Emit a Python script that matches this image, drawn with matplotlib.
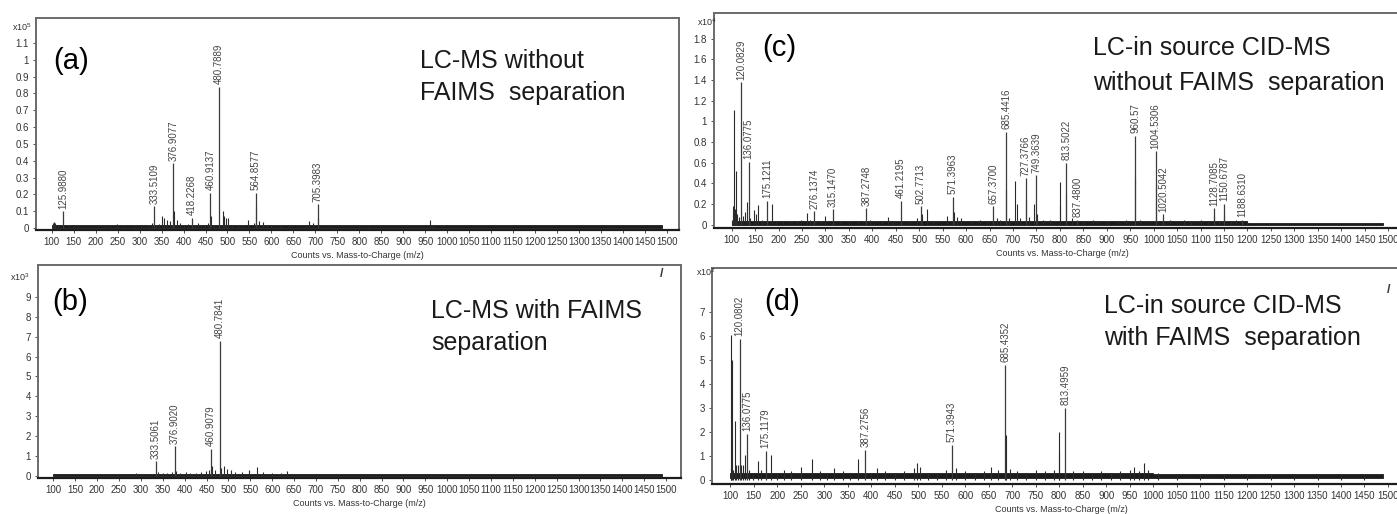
import matplotlib.pyplot as plt
from matplotlib import font_manager

W, H = 1397, 514

# ---- panel (a): LC-MS without FAIMS, counts x10^5 ----
a_labels = ['125.9880', '333.5109', '376.9077', '418.2268', '460.9137',
            '480.7889', '564.8577', '705.3983']
a_int = [0.10, 0.13, 0.385, 0.06, 0.21, 0.84, 0.21, 0.14]
a_minor_mz = [102, 104, 108, 113, 140, 150, 160, 205, 222, 232, 248, 262, 290,
              303, 320, 327, 338, 345, 352, 356, 362, 368, 378, 384, 392, 400,
              410, 425, 432, 440, 448, 455, 462, 470, 489, 492, 497, 502, 510,
              525, 536, 547, 560, 566, 572, 580, 590, 600, 620, 640, 660, 676,
              686, 694, 707, 716, 730, 760, 800, 820, 850, 900, 962, 966, 990]
a_minor_int = [0.03, 0.035, 0.03, 0.02, 0.01, 0.015, 0.012, 0.01, 0.015, 0.02,
               0.025, 0.01, 0.012, 0.012, 0.02, 0.03, 0.02, 0.025, 0.07, 0.06,
               0.05, 0.04, 0.1, 0.05, 0.03, 0.02, 0.025, 0.02, 0.03, 0.015,
               0.02, 0.03, 0.07, 0.02, 0.1, 0.07, 0.06, 0.06, 0.02, 0.02, 0.015,
               0.05, 0.03, 0.13, 0.04, 0.035, 0.02, 0.02, 0.015, 0.015, 0.01,
               0.02, 0.04, 0.03, 0.06, 0.02, 0.015, 0.01, 0.01, 0.012, 0.008,
               0.008, 0.045, 0.02, 0.01]
a_base_mz = [100, 1490]
a_base_lo = [0.0, 0.0]
a_base_hi = [0.016, 0.016]

# ---- panel (b): LC-MS with FAIMS, counts x10^3 ----
b_labels = ['333.5061', '376.9020', '460.9079', '480.7841']
b_int = [0.74, 1.5, 1.37, 6.8]
b_minor_mz = [290, 305, 320, 340, 350, 360, 372, 380, 390, 402, 412, 425, 438,
              448, 456, 463, 470, 484, 490, 497, 505, 515, 530, 547, 565, 578,
              600, 620, 635, 655, 680, 700, 810, 960, 1100, 1300, 1450]
b_minor_int = [0.15, 0.1, 0.12, 0.2, 0.15, 0.15, 0.2, 0.25, 0.15, 0.2, 0.15,
               0.15, 0.2, 0.25, 0.3, 0.5, 0.3, 0.4, 0.5, 0.35, 0.3, 0.2, 0.2,
               0.3, 0.45, 0.2, 0.15, 0.15, 0.25, 0.1, 0.1, 0.1, 0.12, 0.08,
               0.06, 0.06, 0.08]
b_base_mz = [100, 1490]
b_base_lo = [0.0, 0.0]
b_base_hi = [0.12, 0.12]

# ---- panel (c): LC-in source CID-MS without FAIMS, counts x10^4 ----
c_labels = ['120.0829', '136.0775', '175.1211', '276.1374', '315.1470',
            '387.2748', '461.2195', '502.7713', '571.3963', '657.3700',
            '685.4416', '727.3766', '749.3639', '813.5022', '837.4800',
            '960.57', '1004.5306', '1020.5042', '1128.7085', '1150.6787',
            '1188.6310']
c_int = [1.38, 0.61, 0.23, 0.13, 0.15, 0.16, 0.23, 0.18, 0.27, 0.18, 0.90,
         0.45, 0.48, 0.60, 0.05, 0.86, 0.71, 0.10, 0.16, 0.20, 0.05]
c_minor_mz = [101, 103, 105, 107, 110, 112, 115, 124, 128, 132, 140, 147, 152,
              157, 165, 185, 195, 210, 225, 240, 248, 260, 268, 290, 300, 330,
              350, 370, 395, 420, 433, 445, 480, 495, 505, 516, 530, 560, 575,
              580, 590, 610, 630, 645, 665, 672, 686, 692, 705, 708, 715, 728,
              735, 745, 751, 765, 780, 800, 801, 814, 825, 850, 870, 880, 900,
              925, 940, 961, 970, 1006, 1035, 1050, 1065, 1080, 1100, 1115,
              1129.5, 1140, 1151, 1165, 1175, 1190, 1200]
c_minor_int = [0.05, 0.18, 1.11, 0.15, 0.52, 0.1, 0.07, 0.08, 0.12, 0.22, 0.06,
               0.14, 0.1, 0.19, 0.05, 0.2, 0.04, 0.03, 0.03, 0.04, 0.05, 0.11,
               0.05, 0.04, 0.08, 0.03, 0.03, 0.04, 0.05, 0.04, 0.07, 0.03, 0.03,
               0.06, 0.1, 0.15, 0.04, 0.08, 0.12, 0.07, 0.06, 0.04, 0.05, 0.04,
               0.06, 0.05, 0.35, 0.06, 0.42, 0.2, 0.06, 0.25, 0.07, 0.2, 0.1,
               0.05, 0.05, 0.41, 0.19, 0.3, 0.06, 0.04, 0.05, 0.04, 0.03, 0.04,
               0.05, 0.45, 0.05, 0.4, 0.05, 0.03, 0.05, 0.04, 0.05, 0.03, 0.08,
               0.04, 0.1, 0.04, 0.05, 0.03, 0.04]
c_base_mz = [100, 1200, 1200, 1490]
c_base_lo = [0.0, 0.0, 0.0, 0.0]
c_base_hi = [0.035, 0.035, 0.018, 0.018]

# ---- panel (d): LC-in source CID-MS with FAIMS, counts x10^2 ----
d_labels = ['120.0802', '136.0775', '175.1179', '387.2756', '571.3943',
            '685.4352', '813.4959']
d_int = [5.9, 1.92, 1.22, 1.25, 1.46, 4.8, 3.0]
d_minor_mz = [101, 102, 104, 106, 110, 113, 117, 123, 128, 132, 140, 148, 158,
              165, 187, 200, 215, 230, 250, 273, 290, 305, 320, 340, 355, 372,
              400, 413, 430, 450, 470, 490, 497, 503, 520, 540, 560, 580, 600,
              620, 640, 655, 670, 686, 695, 710, 730, 750, 770, 790, 799, 800,
              830, 850, 870, 890, 910, 930, 950, 960, 970, 980, 990, 1010, 1050,
              1100, 1150, 1200, 1250, 1300, 1350, 1400, 1450]
d_minor_int = [0.5, 6.05, 5.0, 0.4, 2.45, 0.6, 0.6, 0.6, 0.6, 1.05, 0.4, 0.3,
               0.8, 0.4, 1.05, 0.3, 0.4, 0.35, 0.55, 0.85, 0.35, 0.3, 0.5, 0.35,
               0.3, 0.85, 0.3, 0.5, 0.35, 0.3, 0.35, 0.5, 0.7, 0.55, 0.3, 0.3,
               0.4, 0.5, 0.35, 0.3, 0.35, 0.55, 0.4, 1.85, 0.45, 0.35, 0.3, 0.4,
               0.35, 0.4, 1.2, 2.0, 0.35, 0.35, 0.3, 0.35, 0.3, 0.35, 0.4, 0.55,
               0.35, 0.7, 0.4, 0.3, 0.25, 0.2, 0.2, 0.2, 0.25, 0.2, 0.2, 0.2, 0.2]
d_base_mz = [100, 1000, 1000, 1490]
d_base_lo = [0.07, 0.07, 0.08, 0.08]
d_base_hi = [0.28, 0.28, 0.22, 0.22]

x_ticks = list(range(100, 1501, 50))
xlabel = 'Counts vs. Mass-to-Charge (m/z)'

names = {f.name for f in font_manager.fontManager.ttflist}
narrow = 'Liberation Sans Narrow' if 'Liberation Sans Narrow' in names else 'Liberation Sans'
plt.rcParams['font.family'] = ['Liberation Sans', 'DejaVu Sans']
plt.rcParams['mathtext.default'] = 'regular'

fig = plt.figure(figsize=(W / 100, H / 100), dpi=100)


def fx(x):
    return x / W


def fy(y):
    return 1 - y / H


def panel(box, xlim, ylim, yticks, labels, heights, minor_mz, minor_int,
          base_mz, base_lo, base_hi, tag, tag_xy, exp, exp_xy,
          title, title_x, title_base):
    left, top, right, bottom = box
    ax = fig.add_axes([fx(left), fy(bottom), fx(right - left), (bottom - top) / H])
    mz = [float(s) for s in labels]
    ax.fill_between(base_mz, base_lo, base_hi, color='#1c1c1c', lw=0.6)
    ax.vlines(minor_mz, 0, minor_int, colors='#2a2a2a', lw=0.8)
    ax.vlines(mz, 0, heights, colors='#3a3a3a', lw=0.9)
    pad = (ylim[1] - ylim[0]) * 0.012
    for m, h, s in zip(mz, heights, labels):
        ax.text(m, h + pad, s, rotation=90, ha='center', va='bottom',
                fontsize=7, color='#444444', family=narrow)
    ax.set_xlim(*xlim)
    ax.set_ylim(*ylim)
    ax.set_xticks(x_ticks)
    ax.set_yticks(yticks)
    ax.set_yticklabels(['%g' % v for v in yticks])
    ax.tick_params(length=2.5, width=0.6, pad=2.5, labelsize=7, colors='#333333')
    for lab in ax.get_xticklabels() + ax.get_yticklabels():
        lab.set_family(narrow)
    ax.set_xlabel(xlabel, fontsize=6.5, family=narrow, color='#333333', labelpad=3)
    for side in ['top', 'left', 'right']:
        ax.spines[side].set_color('#6a6a6a')
        ax.spines[side].set_linewidth(1.4)
    ax.spines['bottom'].set_color('#1c1c1c')
    ax.spines['bottom'].set_linewidth(1.6)
    fig.text(fx(tag_xy[0]), fy(tag_xy[1]), tag, fontsize=21, ha='center', va='center')
    fig.text(fx(exp_xy[0]), fy(exp_xy[1]), exp, fontsize=6.5, ha='left',
             va='center', family=narrow, color='#333333')
    for i, line in enumerate(title):
        fig.text(fx(title_x), fy(title_base[i]), line, fontsize=18,
                 ha='left', va='baseline', color='#1a1a1a')
    return ax


panel((36, 18, 679, 230), (64, 1528), (-0.012, 1.249),
      [round(0.1 * i, 1) for i in range(12)],
      a_labels, a_int, a_minor_mz, a_minor_int, a_base_mz, a_base_lo, a_base_hi,
      '(a)', (71, 61), 'x10$^5$', (12, 27),
      ['LC-MS without', 'FAIMS  separation'], 420, (68, 100))

panel((38, 265, 681, 478), (65, 1534), (-0.1, 10.6), list(range(10)),
      b_labels, b_int, b_minor_mz, b_minor_int, b_base_mz, b_base_lo, b_base_hi,
      '(b)', (70, 302), 'x10$^3$', (10, 277),
      ['LC-MS with FAIMS', 'separation'], 431, (318, 350))

panel((714, 13, 1411, 228), (62.2, 1549), (-0.032, 2.05),
      [round(0.2 * i, 1) for i in range(10)],
      c_labels, c_int, c_minor_mz, c_minor_int, c_base_mz, c_base_lo, c_base_hi,
      '(c)', (779, 48), 'x10$^4$', (697, 22),
      ['LC-in source CID-MS', 'without FAIMS  separation'], 1093, (55, 90))

panel((712, 268, 1411, 484), (61.0, 1549), (-0.18, 8.86), list(range(8)),
      d_labels, d_int, d_minor_mz, d_minor_int, d_base_mz, d_base_lo, d_base_hi,
      '(d)', (782, 302), 'x10$^2$', (696, 272),
      ['LC-in source CID-MS', 'with FAIMS  separation'], 1104, (313, 345))

# small stroke marks at the upper right of the lower panels
fig.text(fx(662), fy(274), '/', fontsize=9, weight='bold', color='#333333',
         ha='center', va='center')
fig.text(fx(1389), fy(290), '/', fontsize=9, weight='bold', color='#333333',
         ha='center', va='center')

fig.savefig('out.png', dpi=100)
